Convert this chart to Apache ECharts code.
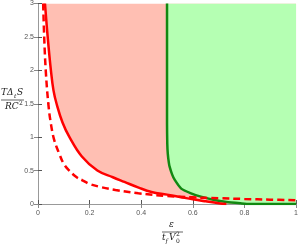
<!DOCTYPE html>
<html><head><meta charset="utf-8">
<script src="https://cdn.jsdelivr.net/npm/echarts@6/dist/echarts.min.js"></script>
<style>html,body{margin:0;padding:0;background:#fff}#c{width:301px;height:244px}</style>
</head><body><div id="c"></div>
<script>
// Tick labels
const xTicks = ["0","0.2","0.4","0.6","0.8","1"];
const yTicks = ["0","0.5","1","1.5","2","2.5","3"];
// Solid red curve
const redSolidX = [0.027,0.0375,0.05,0.06,0.072,0.095,0.122,0.17,0.23,0.29,0.335,0.39,0.44,0.5,0.55,0.6,0.65,0.7,0.73];
const redSolidY = [3.0,2.5,2.0,1.7,1.5,1.22,1.0,0.71,0.5,0.4,0.33,0.245,0.18,0.14,0.105,0.07,0.04,0.012,0.0];
// Dashed red curve
const redDashX = [0.02,0.024,0.03,0.04,0.05,0.063,0.082,0.1,0.121,0.15,0.172,0.2,0.236,0.3,0.389,0.5,0.6,0.7,0.8,0.9,1.0];
const redDashY = [3.0,2.5,2.0,1.5,1.2,0.955,0.757,0.6,0.5,0.4,0.355,0.3,0.26,0.21,0.16,0.12,0.1,0.086,0.075,0.065,0.055];
// Green curve
const greenX = [0.5,0.5,0.501,0.503,0.507,0.51,0.52,0.53,0.555,0.593,0.631,0.683,0.73,0.785,0.82,1.0];
const greenY = [3.0,1.2,0.9,0.75,0.62,0.56,0.44,0.36,0.23,0.16,0.11,0.06,0.03,0.01,0.0,0.0];

const zip = (a,b) => a.map((v,i)=>[v,b[i]]);
const redSolid = zip(redSolidX, redSolidY);
const redFill = redSolid.concat([[1.0,0.0]]);
const redDash = zip(redDashX, redDashY);
const green = zip(greenX, greenY);

const lab = {fontFamily:'Liberation Sans', fontSize:7, color:'#555'};
const serif = 'DejaVu Serif';
const chart = echarts.init(document.getElementById('c'), null, {renderer:'canvas'});
chart.setOption({
  animation:false,
  grid:{left:38, right:2, top:3, bottom:40},
  xAxis:[
    {type:'value', min:0, max:1, interval:0.2, position:'bottom',
     axisLine:{lineStyle:{color:'#555', width:1}},
     axisTick:{inside:true, length:4, lineStyle:{color:'#555'}},
     axisLabel:Object.assign({margin:6, formatter:(v)=>xTicks[Math.round(v/0.2)]}, lab),
     splitLine:{show:false}},
    {type:'value', min:0, max:1, interval:0.2, position:'top',
     axisLine:{show:true, lineStyle:{color:'#999', width:1}},
     axisTick:{inside:true, length:4, lineStyle:{color:'#888'}},
     axisLabel:{show:false}, splitLine:{show:false}}
  ],
  yAxis:[
    {type:'value', min:0, max:3, interval:0.5, position:'left',
     axisLine:{show:true, lineStyle:{color:'#555', width:1}},
     axisTick:{show:true, inside:true, length:4, lineStyle:{color:'#555'}},
     axisLabel:Object.assign({margin:4, formatter:(v)=>yTicks[Math.round(v/0.5)]}, lab),
     splitLine:{show:false}},
    {type:'value', min:0, max:3, interval:0.5, position:'right',
     axisLine:{show:true, lineStyle:{color:'#999', width:1}},
     axisTick:{show:true, inside:true, length:4, lineStyle:{color:'#888'}},
     axisLabel:{show:false}, splitLine:{show:false}}
  ],
  series:[
    {type:'line', data:redFill, smooth:0.4, showSymbol:false, symbol:'none',
     lineStyle:{width:0}, areaStyle:{origin:'end', color:'#ffbfb3', opacity:1}, z:1},
    {type:'line', data:green, smooth:0.2, showSymbol:false, symbol:'none',
     lineStyle:{width:0}, areaStyle:{origin:'end', color:'#b5ffb3', opacity:1}, z:2},
    {type:'line', data:green, smooth:0.2, showSymbol:false, symbol:'none',
     lineStyle:{width:2.5, color:'#118811'}, z:3},
    {type:'line', data:redSolid, smooth:0.4, showSymbol:false, symbol:'none',
     lineStyle:{width:2.5, color:'#ff0000'}, z:4},
    {type:'line', data:redDash, smooth:0.4, showSymbol:false, symbol:'none',
     lineStyle:{width:2.5, color:'#ff0000', type:[7,4]}, z:5}
  ],
  graphic:[
    {type:'text', left:1, top:88, style:{text:'TΔ', font:'italic 9px "'+serif+'"', fill:'#222'}},
    {type:'text', left:14, top:93, style:{text:'t', font:'italic 6px "'+serif+'"', fill:'#222'}},
    {type:'text', left:17, top:88, style:{text:'S', font:'italic 9px "'+serif+'"', fill:'#222'}},
    {type:'line', shape:{x1:1, y1:100, x2:24, y2:100}, style:{stroke:'#222', lineWidth:0.7}},
    {type:'text', left:5, top:102, style:{text:'RC', font:'italic 9px "'+serif+'"', fill:'#222'}},
    {type:'text', left:19, top:100, style:{text:'2', font:'6px "'+serif+'"', fill:'#222'}},

    {type:'text', left:169, top:220, style:{text:'ε', font:'italic 9px "'+serif+'"', fill:'#222'}},
    {type:'line', shape:{x1:162, y1:232, x2:183, y2:232}, style:{stroke:'#222', lineWidth:0.7}},
    {type:'text', left:162, top:233, style:{text:'t', font:'italic 9px "'+serif+'"', fill:'#222'}},
    {type:'text', left:165.5, top:238, style:{text:'f', font:'italic 6px "'+serif+'"', fill:'#222'}},
    {type:'text', left:169, top:233, style:{text:'V', font:'italic 9px "'+serif+'"', fill:'#222'}},
    {type:'text', left:176, top:238, style:{text:'0', font:'6px "'+serif+'"', fill:'#222'}},
    {type:'text', left:176, top:231, style:{text:'2', font:'6px "'+serif+'"', fill:'#222'}}
  ]
});
</script></body></html>
